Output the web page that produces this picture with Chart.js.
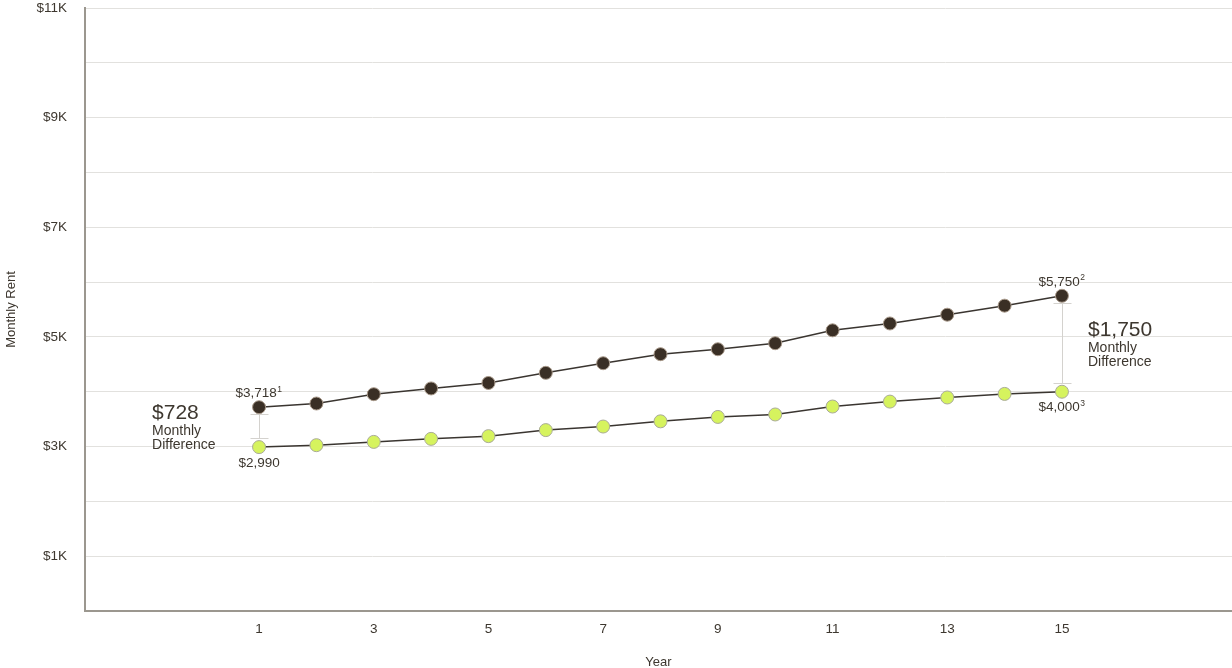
<!DOCTYPE html>
<html>
<head>
<meta charset="utf-8">
<script src="https://cdn.jsdelivr.net/npm/chart.js@4"></script>
<style>
  html, body { margin: 0; padding: 0; background: #fff; }
  #wrap { width: 1232px; height: 668px; position: relative; }
</style>
</head>
<body>
<div id="wrap"><canvas id="rentChart"></canvas></div>
<script>
// chart data
const years = [1, 2, 3, 4, 5, 6, 7, 8, 9, 10, 11, 12, 13, 14, 15];
const higherRent = [3718, 3785, 3955, 4060, 4160, 4345, 4520, 4685, 4775, 4885, 5120, 5245, 5405, 5570, 5750];
const lowerRent = [2990, 3025, 3085, 3140, 3190, 3300, 3365, 3460, 3540, 3585, 3730, 3820, 3895, 3960, 4000];
const yTickValues = [1000, 3000, 5000, 7000, 9000, 11000];
const xTickValues = [1, 3, 5, 7, 9, 11, 13, 15];
const diffNotes = [
  { year: 1, top: 3718, bottom: 2990, amount: '$728', topLabel: '$3,718', topSup: '1', bottomLabel: '$2,990', bottomSup: '', side: 'left' },
  { year: 15, top: 5750, bottom: 4000, amount: '$1,750', topLabel: '$5,750', topSup: '2', bottomLabel: '$4,000', bottomSup: '3', side: 'right' }
];

const FONT = '"Liberation Sans", Arial, sans-serif';
const TEXT = '#3d372f';

// draws the value labels and the "Monthly Difference" brackets
const notesPlugin = {
  id: 'notes',
  beforeDatasetsDraw(chart) {
    const { ctx, scales: { x, y } } = chart;
    ctx.save();
    ctx.strokeStyle = '#d4d2ce';
    ctx.lineWidth = 1;
    diffNotes.forEach(n => {
      const px = Math.round(x.getPixelForValue(n.year)) + 0.5;
      const y1 = Math.round(y.getPixelForValue(n.top) + 7);
      const y2 = Math.round(y.getPixelForValue(n.bottom) - 8);
      ctx.beginPath();
      ctx.moveTo(px, y1); ctx.lineTo(px, y2);
      ctx.moveTo(px - 9, y1 + 0.5); ctx.lineTo(px + 9, y1 + 0.5);
      ctx.moveTo(px - 9, y2 - 0.5); ctx.lineTo(px + 9, y2 - 0.5);
      ctx.stroke();
    });
    ctx.restore();
  },
  afterDatasetsDraw(chart) {
    const { ctx, scales: { x, y } } = chart;
    ctx.save();
    ctx.fillStyle = TEXT;
    const withSup = (txt, sup, cx, cy) => {
      ctx.font = '13.5px ' + FONT;
      const w = ctx.measureText(txt).width;
      ctx.font = '8.5px ' + FONT;
      const sw = sup ? ctx.measureText(sup).width + 1 : 0;
      const left = cx - (w + sw) / 2;
      ctx.textAlign = 'left';
      ctx.textBaseline = 'middle';
      ctx.font = '13.5px ' + FONT;
      ctx.fillText(txt, left, cy);
      if (sup) {
        ctx.font = '8.5px ' + FONT;
        ctx.fillText(sup, left + w + 0.5, cy - 4);
      }
    };
    diffNotes.forEach(n => {
      const px = x.getPixelForValue(n.year);
      const yt = y.getPixelForValue(n.top);
      const yb = y.getPixelForValue(n.bottom);
      withSup(n.topLabel, n.topSup, px, yt - 14);
      withSup(n.bottomLabel, n.bottomSup, px, yb + 16);
      const mid = (yt + yb) / 2;
      const tx = n.side === 'left' ? px - 107 : px + 26;
      ctx.textAlign = 'left';
      ctx.textBaseline = 'middle';
      ctx.font = '21px ' + FONT;
      ctx.fillText(n.amount, tx, mid - 14);
      ctx.font = '14px ' + FONT;
      ctx.fillText('Monthly', tx, mid + 4);
      ctx.fillText('Difference', tx, mid + 18);
    });
    ctx.restore();
  }
};

const ctx = document.getElementById('rentChart').getContext('2d');
new Chart(ctx, {
  type: 'line',
  data: {
    datasets: [{
      label: 'Higher rent',
      data: years.map((yr, i) => ({ x: yr, y: higherRent[i] })),
      borderColor: '#3a3530',
      borderWidth: 1.5,
      pointBackgroundColor: '#3a2f25',
      pointBorderColor: '#a8998a',
      pointBorderWidth: 1,
      pointRadius: 6.5,
      tension: 0
    }, {
      label: 'Lower rent',
      data: years.map((yr, i) => ({ x: yr, y: lowerRent[i] })),
      borderColor: '#3a3530',
      borderWidth: 1.5,
      pointBackgroundColor: '#d6f35e',
      pointBorderColor: '#a9aa98',
      pointBorderWidth: 1,
      pointRadius: 6.5,
      tension: 0
    }]
  },
  options: {
    responsive: true,
    maintainAspectRatio: false,
    animation: false,
    layout: { autoPadding: false, padding: { top: 8, right: 0, left: 0, bottom: 0 } },
    plugins: {
      legend: { display: false },
      tooltip: { enabled: false }
    },
    scales: {
      x: {
        type: 'linear',
        min: -2.035,
        max: 17.965,
        afterBuildTicks: axis => { axis.ticks = xTickValues.map(v => ({ value: v })); },
        afterFit: axis => { axis.height = 57; axis.paddingLeft = 0; axis.paddingRight = 0; },
        ticks: {
          color: TEXT,
          font: { family: FONT, size: 13.5 },
          padding: 10,
          maxRotation: 0,
          autoSkip: false
        },
        grid: { display: false, drawTicks: true, tickLength: 0 },
        border: { color: '#9b978f', width: 2 },
        title: {
          display: true,
          text: 'Year',
          color: TEXT,
          font: { family: FONT, size: 13 },
          padding: { top: 18, bottom: -2 }
        }
      },
      y: {
        min: 0,
        max: 11000,
        afterFit: axis => { axis.width = 85; axis.paddingTop = 0; axis.paddingBottom = 0; },
        ticks: {
          stepSize: 1000,
          color: TEXT,
          font: { family: FONT, size: 13.5 },
          padding: 18,
          callback: v => yTickValues.includes(v) ? '$' + (v / 1000) + 'K' : ''
        },
        grid: { color: '#e2e1de', lineWidth: 1, drawTicks: false },
        border: { color: '#9b978f', width: 2 },
        title: {
          display: true,
          text: 'Monthly Rent',
          color: TEXT,
          font: { family: FONT, size: 13 },
          padding: { top: 4, bottom: 0 }
        }
      }
    }
  },
  plugins: [notesPlugin]
});
</script>
</body>
</html>
